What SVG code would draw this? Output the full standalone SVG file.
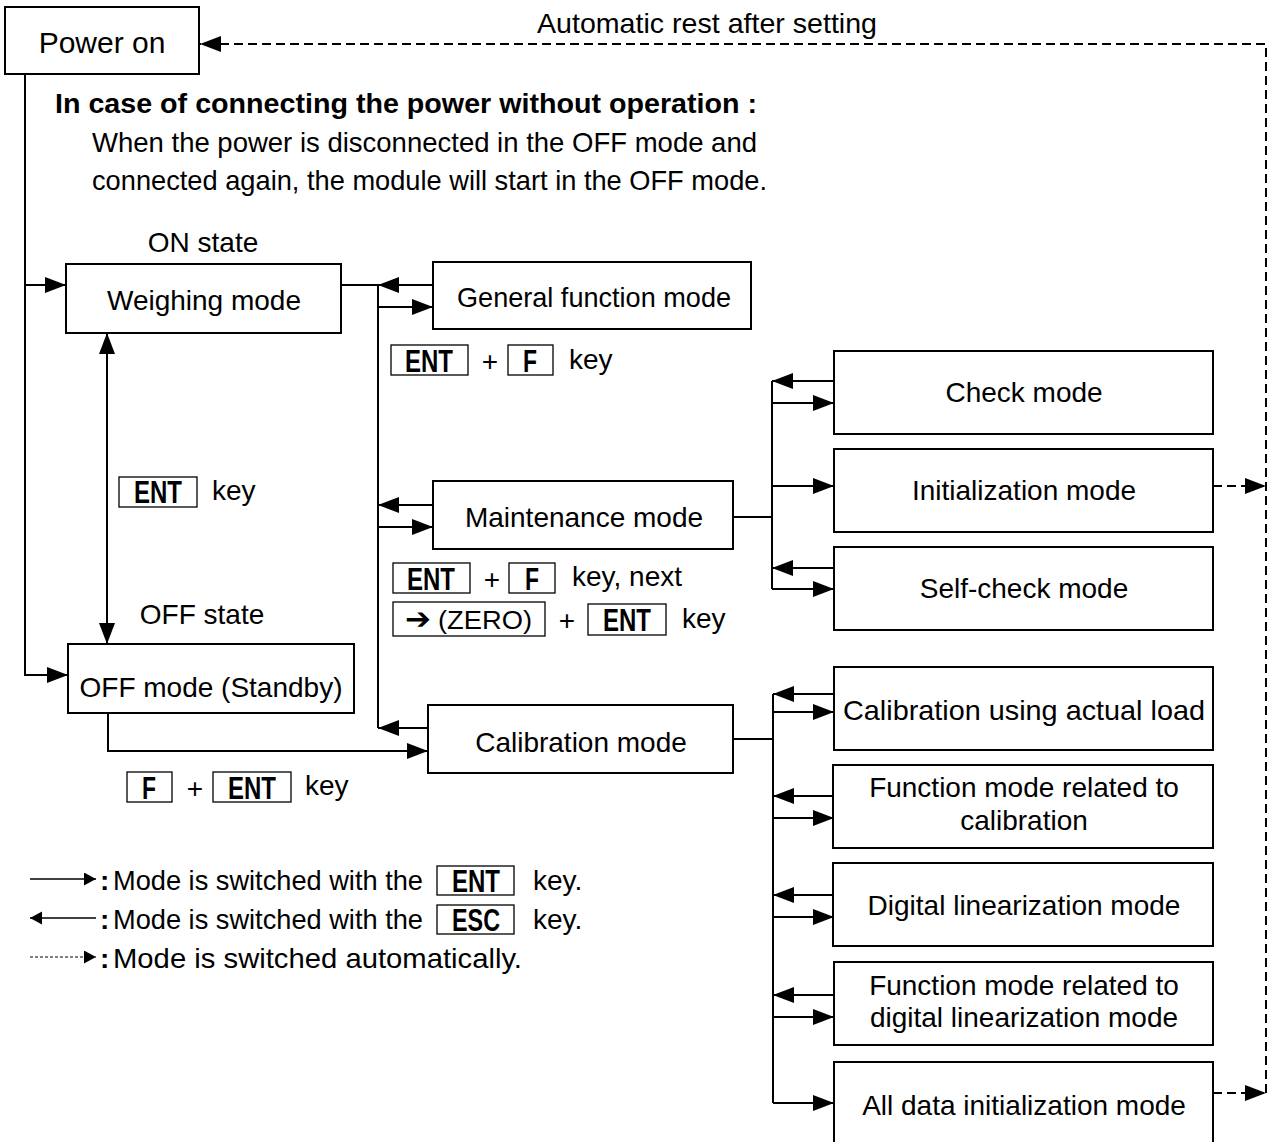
<svg xmlns="http://www.w3.org/2000/svg" width="1269" height="1142" viewBox="0 0 1269 1142">
<defs>
<style>
.n{fill:#fff;stroke:#000;stroke-width:2}
.k{fill:#fff;stroke:#000;stroke-width:1.3}
.t{font-family:"Liberation Sans",Arial,sans-serif;font-size:28px;fill:#000}
.c{text-anchor:middle}
.b{font-weight:bold}
.kt{font-family:"Liberation Sans",Arial,sans-serif;font-size:32px;font-weight:bold;fill:#000;text-anchor:middle}
.ln{fill:none;stroke:#000;stroke-width:2}
.ds{stroke-dasharray:9 5}
.a{marker-end:url(#ah)}
</style>
<marker id="ah" markerUnits="userSpaceOnUse" markerWidth="22" markerHeight="18" refX="21" refY="8" orient="auto-start-reverse"><path d="M0,0 L21,8 L0,16 z" fill="#000"/></marker>
<marker id="sm" markerUnits="userSpaceOnUse" markerWidth="14" markerHeight="14" refX="12" refY="6.5" orient="auto"><path d="M0,0 L12,6.5 L0,13 z" fill="#000"/></marker>
</defs>
<rect width="1269" height="1142" fill="#fff"/>

<g id="connectors">
<path class="ln ds" d="M1266,1093 V44 H200" marker-end="url(#ah)"/>
<line class="ln ds a" x1="1213" y1="486" x2="1266" y2="486"/>
<line class="ln ds a" x1="1213" y1="1093" x2="1266" y2="1093"/>
<path class="ln a" d="M25,74 V675 H68"/>
<line class="ln a" x1="25" y1="285" x2="66" y2="285"/>
<line class="ln" x1="107" y1="333" x2="107" y2="644" marker-start="url(#ah)" marker-end="url(#ah)"/>
<line class="ln" x1="341" y1="285" x2="378" y2="285"/>
<line class="ln" x1="378" y1="285" x2="378" y2="728"/>
<line class="ln a" x1="433" y1="285" x2="378" y2="285"/>
<line class="ln a" x1="378" y1="307" x2="433" y2="307"/>
<line class="ln a" x1="433" y1="505" x2="378" y2="505"/>
<line class="ln a" x1="378" y1="527" x2="433" y2="527"/>
<line class="ln a" x1="428" y1="728" x2="378" y2="728"/>
<path class="ln a" d="M108,713 V751 H428"/>
<line class="ln" x1="733" y1="517" x2="772" y2="517"/>
<line class="ln" x1="772" y1="381" x2="772" y2="589"/>
<line class="ln a" x1="834" y1="381" x2="772" y2="381"/>
<line class="ln a" x1="772" y1="403" x2="834" y2="403"/>
<line class="ln a" x1="772" y1="486" x2="834" y2="486"/>
<line class="ln a" x1="834" y1="568" x2="772" y2="568"/>
<line class="ln a" x1="772" y1="589" x2="834" y2="589"/>
<line class="ln" x1="733" y1="739" x2="773" y2="739"/>
<line class="ln" x1="773" y1="694" x2="773" y2="1103"/>
<line class="ln a" x1="834" y1="694" x2="773" y2="694"/>
<line class="ln a" x1="773" y1="712" x2="834" y2="712"/>
<line class="ln a" x1="834" y1="796" x2="773" y2="796"/>
<line class="ln a" x1="773" y1="818" x2="834" y2="818"/>
<line class="ln a" x1="834" y1="895" x2="773" y2="895"/>
<line class="ln a" x1="773" y1="917" x2="834" y2="917"/>
<line class="ln a" x1="834" y1="995" x2="773" y2="995"/>
<line class="ln a" x1="773" y1="1017" x2="834" y2="1017"/>
<line class="ln a" x1="773" y1="1103" x2="834" y2="1103"/>
</g>

<g id="n-power"><rect class="n" x="5" y="7" width="194" height="67"/><text class="t c" x="102" y="53" style="font-size:30px">Power on</text></g>
<g id="n-weighing"><rect class="n" x="66" y="264" width="275" height="69"/><text class="t c" x="204" y="310">Weighing mode</text></g>
<g id="n-off"><rect class="n" x="68" y="644" width="286" height="69"/><text class="t c" x="211" y="697">OFF mode (Standby)</text></g>
<g id="n-general"><rect class="n" x="433" y="262" width="318" height="67"/><text class="t c" x="594" y="307" textLength="274" lengthAdjust="spacingAndGlyphs">General function mode</text></g>
<g id="n-maint"><rect class="n" x="433" y="481" width="300" height="68"/><text class="t c" x="584" y="527">Maintenance mode</text></g>
<g id="n-calib"><rect class="n" x="428" y="705" width="305" height="68"/><text class="t c" x="581" y="752">Calibration mode</text></g>
<g id="n-check"><rect class="n" x="834" y="351" width="379" height="83"/><text class="t c" x="1024" y="402">Check mode</text></g>
<g id="n-init"><rect class="n" x="834" y="449" width="379" height="83"/><text class="t c" x="1024" y="500">Initialization mode</text></g>
<g id="n-self"><rect class="n" x="834" y="547" width="379" height="83"/><text class="t c" x="1024" y="598">Self-check mode</text></g>
<g id="n-actual"><rect class="n" x="834" y="667" width="379" height="83"/><text class="t c" x="1024" y="720" textLength="362" lengthAdjust="spacingAndGlyphs">Calibration using actual load</text></g>
<g id="n-funccal"><rect class="n" x="833" y="765" width="380" height="83"/><text class="t c" x="1024" y="797">Function mode related to</text><text class="t c" x="1024" y="830">calibration</text></g>
<g id="n-diglin"><rect class="n" x="833" y="863" width="380" height="83"/><text class="t c" x="1024" y="915">Digital linearization mode</text></g>
<g id="n-funcdig"><rect class="n" x="834" y="962" width="379" height="83"/><text class="t c" x="1024" y="995">Function mode related to</text><text class="t c" x="1024" y="1027">digital linearization mode</text></g>
<g id="n-alldata"><rect class="n" x="834" y="1062" width="379" height="84"/><text class="t c" x="1024" y="1115">All data initialization mode</text></g>

<g id="labels">
<text class="t" x="537" y="33" textLength="340" lengthAdjust="spacingAndGlyphs">Automatic rest after setting</text>
<text class="t b" x="55" y="113" textLength="702" lengthAdjust="spacingAndGlyphs">In case of connecting the power without operation :</text>
<text class="t" x="92" y="152" textLength="665" lengthAdjust="spacingAndGlyphs">When the power is disconnected in the OFF mode and</text>
<text class="t" x="92" y="190" textLength="675" lengthAdjust="spacingAndGlyphs">connected again, the module will start in the OFF mode.</text>
<text class="t c" x="203" y="252">ON state</text>
<text class="t c" x="202" y="624">OFF state</text>
</g>

<g id="key-ent-off">
<rect class="k" x="119" y="477" width="78" height="30"/><text class="kt" x="158" y="503" textLength="48" lengthAdjust="spacingAndGlyphs">ENT</text>
<text class="t" x="212" y="500">key</text>
</g>
<g id="key-general">
<rect class="k" x="391" y="345" width="77" height="30"/><text class="kt" x="429" y="372" textLength="48" lengthAdjust="spacingAndGlyphs">ENT</text>
<text class="t c" x="490" y="371">+</text>
<rect class="k" x="508" y="345" width="45" height="30"/><text class="kt" x="530" y="372" textLength="14" lengthAdjust="spacingAndGlyphs">F</text>
<text class="t" x="569" y="369">key</text>
</g>
<g id="key-maint">
<rect class="k" x="393" y="563" width="77" height="30"/><text class="kt" x="431" y="590" textLength="48" lengthAdjust="spacingAndGlyphs">ENT</text>
<text class="t c" x="492" y="589">+</text>
<rect class="k" x="509" y="563" width="46" height="30"/><text class="kt" x="532" y="590" textLength="14" lengthAdjust="spacingAndGlyphs">F</text>
<text class="t" x="572" y="586">key, next</text>
<rect class="k" x="393" y="602" width="152" height="34"/>
<text x="405" y="629" style="font-family:'DejaVu Sans',sans-serif;font-size:30px;font-weight:bold" textLength="26" lengthAdjust="spacingAndGlyphs">➔</text>
<text class="t" x="438" y="629" style="font-size:26px" textLength="94" lengthAdjust="spacingAndGlyphs">(ZERO)</text>
<text class="t c" x="567" y="630">+</text>
<rect class="k" x="588" y="604" width="78" height="31"/><text class="kt" x="627" y="631" textLength="48" lengthAdjust="spacingAndGlyphs">ENT</text>
<text class="t" x="682" y="628">key</text>
</g>
<g id="key-calib">
<rect class="k" x="127" y="772" width="45" height="30"/><text class="kt" x="149" y="799" textLength="14" lengthAdjust="spacingAndGlyphs">F</text>
<text class="t c" x="195" y="798">+</text>
<rect class="k" x="213" y="772" width="78" height="30"/><text class="kt" x="252" y="799" textLength="48" lengthAdjust="spacingAndGlyphs">ENT</text>
<text class="t" x="305" y="795">key</text>
</g>

<g id="legend">
<line x1="30" y1="879" x2="96" y2="879" stroke="#000" stroke-width="1.5" marker-end="url(#sm)"/>
<text class="t b" x="100" y="890">:</text>
<text class="t" x="113" y="890" textLength="310" lengthAdjust="spacingAndGlyphs">Mode is switched with the</text>
<rect class="k" x="437" y="866" width="77" height="29"/><text class="kt" x="476" y="892" textLength="48" lengthAdjust="spacingAndGlyphs">ENT</text>
<text class="t" x="533" y="890">key.</text>
<line x1="96" y1="918" x2="30" y2="918" stroke="#000" stroke-width="1.5" marker-end="url(#sm)"/>
<text class="t b" x="100" y="929">:</text>
<text class="t" x="113" y="929" textLength="310" lengthAdjust="spacingAndGlyphs">Mode is switched with the</text>
<rect class="k" x="437" y="905" width="77" height="29"/><text class="kt" x="476" y="931" textLength="48" lengthAdjust="spacingAndGlyphs">ESC</text>
<text class="t" x="533" y="929">key.</text>
<line x1="30" y1="957" x2="96" y2="957" stroke="#000" stroke-width="1.2" stroke-dasharray="3 2" marker-end="url(#sm)"/>
<text class="t b" x="100" y="968">:</text>
<text class="t" x="113" y="968" textLength="409" lengthAdjust="spacingAndGlyphs">Mode is switched automatically.</text>
</g>
</svg>
